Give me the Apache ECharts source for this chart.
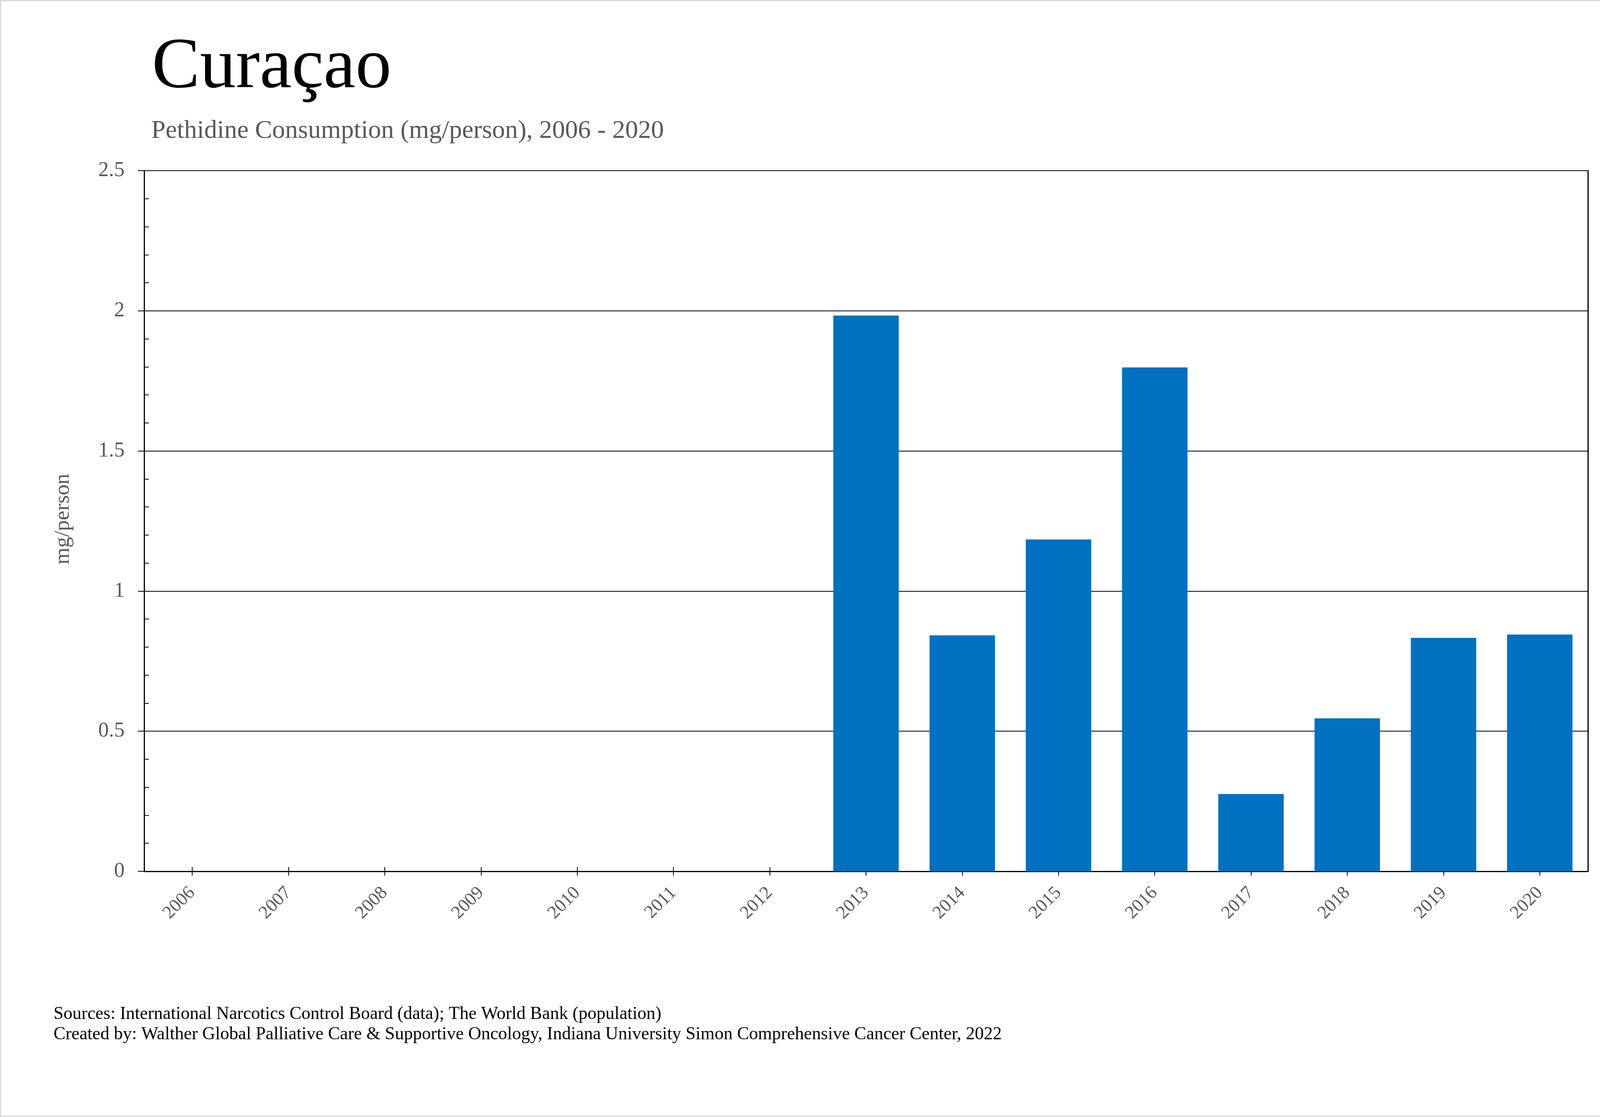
<!DOCTYPE html>
<html>
<head>
<meta charset="utf-8">
<script src="https://cdn.jsdelivr.net/npm/echarts@6/dist/echarts.min.js"></script>
<style>
html,body{margin:0;padding:0;background:#fff;}
#chart{width:4221px;height:2860px;}
</style>
</head>
<body>
<div id="chart"></div>
<script>
var years = ['2006','2007','2008','2009','2010','2011','2012','2013','2014','2015','2016','2017','2018','2019','2020'];
var consumption = [0, 0, 0, 0, 0, 0, 0, 1.983, 0.842, 1.184, 1.798, 0.276, 0.546, 0.833, 0.845];
var yTicks = [0, 0.5, 1, 1.5, 2, 2.5];

var titleText = 'Curaçao';
var subtitleText = 'Pethidine Consumption (mg/person), 2006 - 2020';
var yAxisName = 'mg/person';
var footerLines = [
  'Sources: International Narcotics Control Board (data); The World Bank (population)',
  'Created by: Walther Global Palliative Care & Supportive Oncology, Indiana University Simon Comprehensive Cancer Center, 2022'
];

var FONT = '"Liberation Serif", "Times New Roman", serif';
var GREY = '#595959';

var chart = echarts.init(document.getElementById('chart'), null, {renderer: 'canvas'});
var option = {
  backgroundColor: '#ffffff',
  animation: false,
  grid: {left: 369, right: 156, top: 437, bottom: 629, containLabel: false},
  xAxis: [{
    type: 'category',
    position: 'bottom',
    data: years,
    axisLine: {show: true, lineStyle: {color: '#000', width: 3}},
    axisTick: {show: true, alignWithLabel: true, length: 11, lineStyle: {color: '#000', width: 2}},
    axisLabel: {rotate: 45, margin: 48, color: GREY, fontFamily: FONT, fontSize: 47, interval: 0},
    splitLine: {show: false}
  }, {
    type: 'category',
    position: 'bottom',
    data: years,
    axisLine: {show: false},
    axisTick: {show: true, inside: true, alignWithLabel: true, length: 11, lineStyle: {color: '#000', width: 2}},
    axisLabel: {show: false},
    splitLine: {show: false}
  }],
  yAxis: [{
    type: 'value',
    position: 'left',
    min: yTicks[0],
    max: yTicks[yTicks.length - 1],
    interval: 0.5,
    axisLine: {show: true, lineStyle: {color: '#000', width: 3}},
    axisTick: {show: true, length: 16, lineStyle: {color: '#000', width: 2}},
    axisLabel: {margin: 50, color: GREY, fontFamily: FONT, fontSize: 54},
    splitLine: {show: true, lineStyle: {color: '#000', width: 2}}
  }, {
    type: 'value',
    position: 'left',
    min: yTicks[0],
    max: yTicks[yTicks.length - 1],
    interval: 0.5,
    axisLine: {show: false},
    axisTick: {show: false, inside: true},
    minorTick: {show: true, splitNumber: 5, length: 12, lineStyle: {color: '#000', width: 2}},
    axisLabel: {show: false},
    splitLine: {show: false}
  }, {
    type: 'value',
    position: 'right',
    min: yTicks[0],
    max: yTicks[yTicks.length - 1],
    interval: 0.5,
    axisLine: {show: true, lineStyle: {color: '#000', width: 3}},
    axisTick: {show: false},
    axisLabel: {show: false},
    splitLine: {show: false}
  }],
  series: [{
    type: 'bar',
    xAxisIndex: 0,
    yAxisIndex: 0,
    data: consumption,
    barWidth: '68%',
    itemStyle: {color: '#0070C0'}
  }],
  graphic: [
    {type: 'rect', shape: {x: 1.5, y: 1.5, width: 4211, height: 2856}, style: {fill: null, stroke: '#d9d9d9', lineWidth: 3}, silent: true},
    {type: 'text', x: 389, y: 175, style: {text: titleText, fill: '#000', font: '184px ' + FONT, textAlign: 'left', textVerticalAlign: 'middle'}},
    {type: 'text', x: 387, y: 336, style: {text: subtitleText, fill: GREY, font: '66px ' + FONT, textAlign: 'left', textVerticalAlign: 'middle'}},
    {type: 'text', x: 162, y: 1329, rotation: Math.PI / 2, style: {text: yAxisName, fill: GREY, font: '55px ' + FONT, textAlign: 'center', textVerticalAlign: 'middle'}},
    {type: 'text', x: 137, y: 2597, style: {text: footerLines[0], fill: '#000', font: '46px ' + FONT, textAlign: 'left', textVerticalAlign: 'middle'}},
    {type: 'text', x: 137, y: 2649, style: {text: footerLines[1], fill: '#000', font: '46px ' + FONT, textAlign: 'left', textVerticalAlign: 'middle'}}
  ]
};
chart.setOption(option);
</script>
</body>
</html>
